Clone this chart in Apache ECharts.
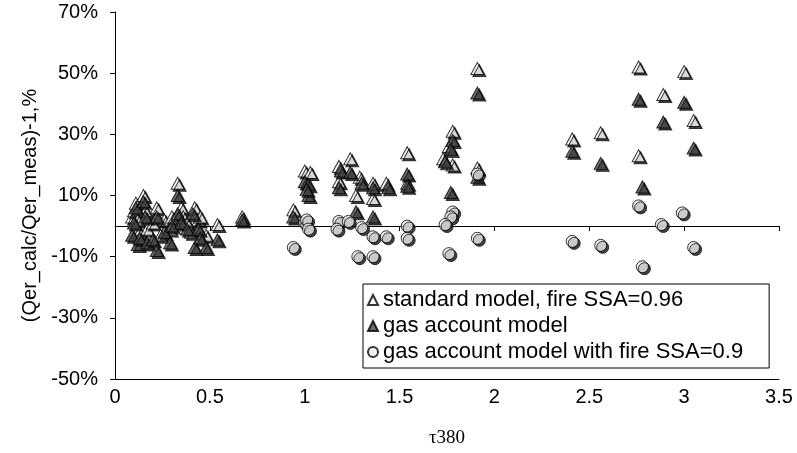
<!DOCTYPE html>
<html>
<head>
<meta charset="utf-8">
<script src="https://cdn.jsdelivr.net/npm/echarts@6/dist/echarts.min.js"></script>
<style>
  html, body { margin: 0; padding: 0; background: #fff; }
  #chart { width: 797px; height: 453px; }
</style>
</head>
<body>
<div id="chart"></div>
<script>
// tau380 values and relative error (%) per series
var tauStd = [0.09, 0.10, 0.11, 0.12, 0.13, 0.15, 0.16, 0.17, 0.20, 0.22, 0.24, 0.26, 0.29, 0.30, 0.33, 0.35, 0.36, 0.38, 0.40, 0.42, 0.44, 0.45, 0.48, 0.54, 0.67,
    0.94, 1.00, 1.03, 1.18, 1.24, 1.18, 1.29, 1.27, 1.36, 1.36, 1.43, 1.54, 1.54,
    1.78, 1.76, 1.73, 1.78, 1.91, 1.91,
    2.41, 2.56, 2.76, 2.76, 2.89, 3.00, 3.05];
var stdVals = [3, 5, 7.5, 2, -2, 10, 5, -1, 1, 6, -3, 2, -1, 3, 14, 6, 3, 1, -2, 6, 2, 3, -3, 0.5, 3,
    5.3, 18, 17.5, 19.5, 22, 14.5, 16, 10, 14, 9, 14, 24, 14,
    31, 26, 22, 20, 51.5, 19,
    28.5, 30.5, 52, 23, 43, 50.5, 34.5];

var tauGas = [0.09, 0.10, 0.11, 0.12, 0.13, 0.15, 0.16, 0.17, 0.20, 0.22, 0.22, 0.26, 0.29, 0.30, 0.33, 0.33, 0.35, 0.38, 0.41, 0.42, 0.44, 0.45, 0.48, 0.54, 0.67,
    0.94, 1.00, 1.02, 1.02, 1.01, 1.19, 1.24, 1.18, 1.30, 1.36, 1.44, 1.27, 1.36, 1.54, 1.54,
    1.78, 1.77, 1.74, 1.77, 1.91, 1.91,
    2.41, 2.56, 2.76, 2.78, 2.89, 3.00, 3.05];
var gasVals = [-3, 1, 6, -6, -4, 8, 3, -5.5, -4.5, 3, -8, -2, -5.5, 0, 10, 4, 1, -1, 4, -7, -1, -4, -7, -4.5, 2,
    3, 14.5, 13.5, 10, 12, 18, 17.5, 12.5, 14, 12.5, 12.5, 4.7, 3, 17, 13,
    28, 25, 21, 11, 43.5, 16,
    24.5, 20.5, 41.5, 12.8, 34, 40.5, 25.5];

var tauFire = [0.94, 1.00, 1.01, 1.02, 1.18, 1.17, 1.23, 1.30, 1.36, 1.43, 1.28, 1.36, 1.54, 1.54,
    1.91, 1.78, 1.77, 1.74, 1.76, 1.91,
    2.41, 2.56, 2.76, 2.88, 2.99, 3.05, 2.78];
var fireVals = [-7, 1, 2, -1, 1.5, -1, 1.5, -0.5, -3.5, -3.5, -10, -10, 0, -4,
    17, 4.6, 3, 0.5, -9, -4,
    -5, -6.3, 6.6, 0.5, 4.3, -7, -13.3];

var seriesNames = ['standard model, fire SSA=0.96', 'gas account model', 'gas account model with fire SSA=0.9'];

var pairs = function (xs, ys) {
    return xs.map(function (x, i) { return [x, ys[i]]; });
};

var font = 'Liberation Sans, Arial, sans-serif';
var shadow = { shadowColor: '#111', shadowBlur: 0, shadowOffsetX: 2, shadowOffsetY: 2 };

var chart = echarts.init(document.getElementById('chart'));
chart.setOption({
    animation: false,
    backgroundColor: '#fff',
    grid: { left: 115, right: 18, top: 12, bottom: 73 },
    legend: {
        orient: 'vertical',
        left: 363,
        top: 284,
        padding: [5, 26, 5, 4],
        itemGap: 4,
        itemWidth: 10,
        itemHeight: 10,
        borderColor: '#000',
        borderWidth: 1,
        borderRadius: 0,
        textStyle: { fontFamily: font, fontSize: 22, color: '#000' },
        data: seriesNames
    },
    xAxis: [
        {
            type: 'value', min: 0, max: 3.5, interval: 0.5,
            axisLine: { onZero: true, lineStyle: { color: '#000', width: 1 } },
            axisTick: { show: true, length: 5, lineStyle: { color: '#000' } },
            axisLabel: { show: false },
            splitLine: { show: false }
        },
        {
            type: 'value', min: 0, max: 3.5, interval: 0.5, position: 'bottom',
            name: 'τ380', nameLocation: 'middle', nameGap: 50,
            nameTextStyle: { fontFamily: 'Liberation Serif, Times New Roman, serif', fontSize: 19, color: '#000' },
            axisLine: { onZero: false, lineStyle: { color: '#000', width: 1 } },
            axisTick: { show: false },
            axisLabel: { fontFamily: font, fontSize: 20, color: '#000', margin: 8 },
            splitLine: { show: false }
        }
    ],
    yAxis: {
        type: 'value', min: -50, max: 70, interval: 20,
        name: '(Qer_calc/Qer_meas)-1,%', nameLocation: 'middle', nameGap: 75,
        nameTextStyle: { fontFamily: font, fontSize: 20, color: '#000', padding: [0, 20, 0, 0] },
        axisLine: { show: true, lineStyle: { color: '#000', width: 1 } },
        axisTick: { show: true, length: 5, lineStyle: { color: '#000' } },
        axisLabel: { fontFamily: font, fontSize: 20, color: '#000', margin: 17, formatter: '{value}%' },
        splitLine: { show: false }
    },
    series: [
        {
            name: seriesNames[0], type: 'scatter', symbol: 'triangle', symbolSize: [13, 12],
            itemStyle: Object.assign({ color: '#fff', borderColor: '#000', borderWidth: 1 }, shadow),
            data: pairs(tauStd, stdVals)
        },
        {
            name: seriesNames[1], type: 'scatter', symbol: 'triangle', symbolSize: [13, 12],
            itemStyle: Object.assign({ color: '#4a4a4a', borderColor: '#000', borderWidth: 1 }, shadow),
            data: pairs(tauGas, gasVals)
        },
        {
            name: seriesNames[2], type: 'scatter', symbol: 'circle', symbolSize: 12,
            itemStyle: Object.assign({ color: '#eee', borderColor: '#000', borderWidth: 1 }, shadow),
            data: pairs(tauFire, fireVals)
        }
    ]
});
</script>
</body>
</html>
